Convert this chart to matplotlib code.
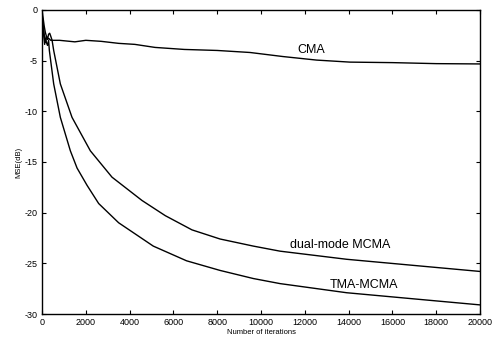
import matplotlib
matplotlib.use("Agg")
import matplotlib.pyplot as plt

cma_x = [0, 50, 100, 150, 200, 250, 300, 400, 800, 1500, 2000, 2700, 3500, 4240, 5160,
         6500, 8000, 9500, 11000, 12540, 14060, 16000, 18000, 20000]
cma_y = [0, -0.8, -1.6, -2.2, -2.6, -2.9, -2.8, -3.0, -3.0, -3.15, -3.0, -3.1, -3.3, -3.4,
         -3.7, -3.9, -4.0, -4.2, -4.6, -4.95, -5.15, -5.2, -5.3, -5.33]

dual_x = [0, 40, 80, 120, 160, 200, 250, 300, 350, 400, 460, 533, 837, 1370, 2207, 3196,
          4566, 5631, 6849, 8130, 9650, 10870, 13910, 16950, 20000]
dual_y = [-0.3, -1.2, -2.0, -2.8, -3.2, -2.6, -2.9, -2.4, -2.3, -2.6, -3.0, -4.0, -7.3,
          -10.6, -13.9, -16.5, -18.8, -20.3, -21.7, -22.6, -23.3, -23.8, -24.6, -25.2, -25.8]

tma_x = [0, 40, 80, 120, 160, 200, 250, 300, 335, 533, 837, 1294, 1600, 2055, 2587, 3500,
         5080, 6600, 8130, 9650, 10870, 13910, 16950, 20000]
tma_y = [-0.5, -1.5, -2.6, -3.4, -2.8, -3.2, -3.5, -3.0, -4.0, -7.3, -10.6, -13.9, -15.6,
         -17.3, -19.1, -21.0, -23.3, -24.75, -25.7, -26.5, -27.0, -27.9, -28.5, -29.1]

x_ticks = list(range(0, 20001, 2000))
y_ticks = [0, -5, -10, -15, -20, -25, -30]

fam = ['Liberation Sans Narrow', 'Liberation Sans', 'DejaVu Sans']

fig = plt.figure(figsize=(4.92, 3.43), dpi=100)
ax = fig.add_axes([0.0854, 0.0845, 0.8902, 0.8866])

for xs, ys in [(cma_x, cma_y), (dual_x, dual_y), (tma_x, tma_y)]:
    ax.plot(xs, ys, color='black', lw=1.0)

ax.set_xlim(0, 20000)
ax.set_ylim(-30, 0)
ax.set_xticks(x_ticks)
ax.set_yticks(y_ticks)
ax.set_xticklabels([str(v) for v in x_ticks], family=fam, fontsize=6.5)
ax.set_yticklabels([str(v) for v in y_ticks], family=fam, fontsize=6.5)
ax.tick_params(direction='in', length=3, width=0.8, top=True, right=True, pad=3)
for s in ax.spines.values():
    s.set_linewidth(1.0)

ax.set_xlabel('Number of iterations', family=fam, fontsize=5.5, labelpad=1)
ax.set_ylabel('MSE(dB)', family=fam, fontsize=5.5, labelpad=2)

ax.text(12300, -4.25, 'CMA', family=fam, fontsize=9, ha='center', va='baseline')
ax.text(13600, -23.5, 'dual-mode MCMA', family=fam, fontsize=9, ha='center', va='baseline')
ax.text(14680, -27.4, 'TMA-MCMA', family=fam, fontsize=9, ha='center', va='baseline')

fig.savefig('out.png', dpi=100)
